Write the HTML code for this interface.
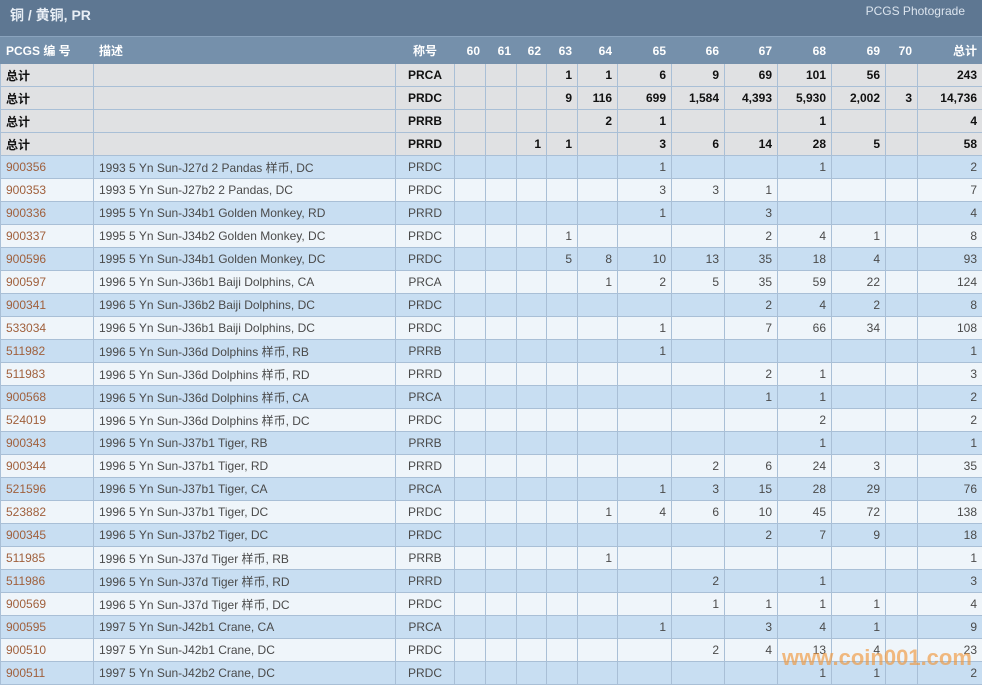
<!DOCTYPE html>
<html><head><meta charset="utf-8"><style>
body{margin:0;width:982px;height:686px;overflow:hidden;background:#fff;font-family:"Liberation Sans","Noto Sans CJK SC",sans-serif;position:relative}
.title{position:absolute;left:0;top:0;width:982px;height:37px;background:#5e7792;color:#e8eef5;box-sizing:border-box;border-bottom:1px solid #8aa3bd}
.title .l{position:absolute;left:10px;top:5px;font-size:14px;font-weight:bold}
.title .r{position:absolute;right:17px;top:4px;font-size:12px;color:#dbe4ee}
table{position:absolute;left:0;top:37px;border-collapse:collapse;table-layout:fixed;width:982px;font-size:12px}
td,th{border:1px solid #a9bfd6;padding:0 5px;height:22px;white-space:nowrap;overflow:hidden;text-align:right;color:#4a4a4a}
th{background:#7590ab;color:#fff;height:25px;font-weight:bold;border-color:#7590ab}
th.a,td.a,th.b,td.b{text-align:left}
td.c,th.c{text-align:center}
tr.t td{background:#e0e1e3;color:#111;font-weight:bold}
tr.x td{background:#c8def2}
tr.y td{background:#eff5fa}
td.a{color:#a0603c}
tr.t td.a{color:#111}
.wm{position:absolute;left:782px;top:645px;font-size:22px;font-weight:bold;color:rgba(240,150,60,0.65);font-family:"Liberation Sans",sans-serif}
</style></head><body>
<div class="title"><span class="l">铜 / 黄铜, PR</span><span class="r">PCGS Photograde</span></div>
<table>
<colgroup><col style="width:93px"><col style="width:302px"><col style="width:59px"><col style="width:31px"><col style="width:31px"><col style="width:30px"><col style="width:31px"><col style="width:40px"><col style="width:54px"><col style="width:53px"><col style="width:53px"><col style="width:54px"><col style="width:54px"><col style="width:32px"><col style="width:65px"></colgroup>
<tr><th class="a">PCGS 编 号</th><th class="b">描述</th><th class="c">称号</th><th>60</th><th>61</th><th>62</th><th>63</th><th>64</th><th>65</th><th>66</th><th>67</th><th>68</th><th>69</th><th>70</th><th>总计</th></tr>
<tr class="t"><td class="a">总计</td><td></td><td class="c">PRCA</td><td></td><td></td><td></td><td>1</td><td>1</td><td>6</td><td>9</td><td>69</td><td>101</td><td>56</td><td></td><td>243</td></tr>
<tr class="t"><td class="a">总计</td><td></td><td class="c">PRDC</td><td></td><td></td><td></td><td>9</td><td>116</td><td>699</td><td>1,584</td><td>4,393</td><td>5,930</td><td>2,002</td><td>3</td><td>14,736</td></tr>
<tr class="t"><td class="a">总计</td><td></td><td class="c">PRRB</td><td></td><td></td><td></td><td></td><td>2</td><td>1</td><td></td><td></td><td>1</td><td></td><td></td><td>4</td></tr>
<tr class="t"><td class="a">总计</td><td></td><td class="c">PRRD</td><td></td><td></td><td>1</td><td>1</td><td></td><td>3</td><td>6</td><td>14</td><td>28</td><td>5</td><td></td><td>58</td></tr>
<tr class="x"><td class="a">900356</td><td class="b">1993 5 Yn Sun-J27d 2 Pandas 样币, DC</td><td class="c">PRDC</td><td></td><td></td><td></td><td></td><td></td><td>1</td><td></td><td></td><td>1</td><td></td><td></td><td>2</td></tr>
<tr class="y"><td class="a">900353</td><td class="b">1993 5 Yn Sun-J27b2 2 Pandas, DC</td><td class="c">PRDC</td><td></td><td></td><td></td><td></td><td></td><td>3</td><td>3</td><td>1</td><td></td><td></td><td></td><td>7</td></tr>
<tr class="x"><td class="a">900336</td><td class="b">1995 5 Yn Sun-J34b1 Golden Monkey, RD</td><td class="c">PRRD</td><td></td><td></td><td></td><td></td><td></td><td>1</td><td></td><td>3</td><td></td><td></td><td></td><td>4</td></tr>
<tr class="y"><td class="a">900337</td><td class="b">1995 5 Yn Sun-J34b2 Golden Monkey, DC</td><td class="c">PRDC</td><td></td><td></td><td></td><td>1</td><td></td><td></td><td></td><td>2</td><td>4</td><td>1</td><td></td><td>8</td></tr>
<tr class="x"><td class="a">900596</td><td class="b">1995 5 Yn Sun-J34b1 Golden Monkey, DC</td><td class="c">PRDC</td><td></td><td></td><td></td><td>5</td><td>8</td><td>10</td><td>13</td><td>35</td><td>18</td><td>4</td><td></td><td>93</td></tr>
<tr class="y"><td class="a">900597</td><td class="b">1996 5 Yn Sun-J36b1 Baiji Dolphins, CA</td><td class="c">PRCA</td><td></td><td></td><td></td><td></td><td>1</td><td>2</td><td>5</td><td>35</td><td>59</td><td>22</td><td></td><td>124</td></tr>
<tr class="x"><td class="a">900341</td><td class="b">1996 5 Yn Sun-J36b2 Baiji Dolphins, DC</td><td class="c">PRDC</td><td></td><td></td><td></td><td></td><td></td><td></td><td></td><td>2</td><td>4</td><td>2</td><td></td><td>8</td></tr>
<tr class="y"><td class="a">533034</td><td class="b">1996 5 Yn Sun-J36b1 Baiji Dolphins, DC</td><td class="c">PRDC</td><td></td><td></td><td></td><td></td><td></td><td>1</td><td></td><td>7</td><td>66</td><td>34</td><td></td><td>108</td></tr>
<tr class="x"><td class="a">511982</td><td class="b">1996 5 Yn Sun-J36d Dolphins 样币, RB</td><td class="c">PRRB</td><td></td><td></td><td></td><td></td><td></td><td>1</td><td></td><td></td><td></td><td></td><td></td><td>1</td></tr>
<tr class="y"><td class="a">511983</td><td class="b">1996 5 Yn Sun-J36d Dolphins 样币, RD</td><td class="c">PRRD</td><td></td><td></td><td></td><td></td><td></td><td></td><td></td><td>2</td><td>1</td><td></td><td></td><td>3</td></tr>
<tr class="x"><td class="a">900568</td><td class="b">1996 5 Yn Sun-J36d Dolphins 样币, CA</td><td class="c">PRCA</td><td></td><td></td><td></td><td></td><td></td><td></td><td></td><td>1</td><td>1</td><td></td><td></td><td>2</td></tr>
<tr class="y"><td class="a">524019</td><td class="b">1996 5 Yn Sun-J36d Dolphins 样币, DC</td><td class="c">PRDC</td><td></td><td></td><td></td><td></td><td></td><td></td><td></td><td></td><td>2</td><td></td><td></td><td>2</td></tr>
<tr class="x"><td class="a">900343</td><td class="b">1996 5 Yn Sun-J37b1 Tiger, RB</td><td class="c">PRRB</td><td></td><td></td><td></td><td></td><td></td><td></td><td></td><td></td><td>1</td><td></td><td></td><td>1</td></tr>
<tr class="y"><td class="a">900344</td><td class="b">1996 5 Yn Sun-J37b1 Tiger, RD</td><td class="c">PRRD</td><td></td><td></td><td></td><td></td><td></td><td></td><td>2</td><td>6</td><td>24</td><td>3</td><td></td><td>35</td></tr>
<tr class="x"><td class="a">521596</td><td class="b">1996 5 Yn Sun-J37b1 Tiger, CA</td><td class="c">PRCA</td><td></td><td></td><td></td><td></td><td></td><td>1</td><td>3</td><td>15</td><td>28</td><td>29</td><td></td><td>76</td></tr>
<tr class="y"><td class="a">523882</td><td class="b">1996 5 Yn Sun-J37b1 Tiger, DC</td><td class="c">PRDC</td><td></td><td></td><td></td><td></td><td>1</td><td>4</td><td>6</td><td>10</td><td>45</td><td>72</td><td></td><td>138</td></tr>
<tr class="x"><td class="a">900345</td><td class="b">1996 5 Yn Sun-J37b2 Tiger, DC</td><td class="c">PRDC</td><td></td><td></td><td></td><td></td><td></td><td></td><td></td><td>2</td><td>7</td><td>9</td><td></td><td>18</td></tr>
<tr class="y"><td class="a">511985</td><td class="b">1996 5 Yn Sun-J37d Tiger 样币, RB</td><td class="c">PRRB</td><td></td><td></td><td></td><td></td><td>1</td><td></td><td></td><td></td><td></td><td></td><td></td><td>1</td></tr>
<tr class="x"><td class="a">511986</td><td class="b">1996 5 Yn Sun-J37d Tiger 样币, RD</td><td class="c">PRRD</td><td></td><td></td><td></td><td></td><td></td><td></td><td>2</td><td></td><td>1</td><td></td><td></td><td>3</td></tr>
<tr class="y"><td class="a">900569</td><td class="b">1996 5 Yn Sun-J37d Tiger 样币, DC</td><td class="c">PRDC</td><td></td><td></td><td></td><td></td><td></td><td></td><td>1</td><td>1</td><td>1</td><td>1</td><td></td><td>4</td></tr>
<tr class="x"><td class="a">900595</td><td class="b">1997 5 Yn Sun-J42b1 Crane, CA</td><td class="c">PRCA</td><td></td><td></td><td></td><td></td><td></td><td>1</td><td></td><td>3</td><td>4</td><td>1</td><td></td><td>9</td></tr>
<tr class="y"><td class="a">900510</td><td class="b">1997 5 Yn Sun-J42b1 Crane, DC</td><td class="c">PRDC</td><td></td><td></td><td></td><td></td><td></td><td></td><td>2</td><td>4</td><td>13</td><td>4</td><td></td><td>23</td></tr>
<tr class="x"><td class="a">900511</td><td class="b">1997 5 Yn Sun-J42b2 Crane, DC</td><td class="c">PRDC</td><td></td><td></td><td></td><td></td><td></td><td></td><td></td><td></td><td>1</td><td>1</td><td></td><td>2</td></tr>
</table>
<div class="wm">www.coin001.com</div>
</body></html>
